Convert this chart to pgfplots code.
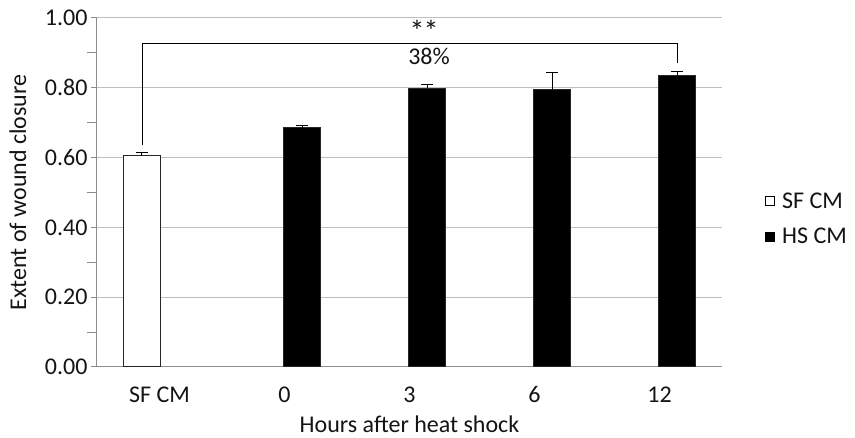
\documentclass[border=0pt]{standalone}
\usepackage{fontspec}
\setmainfont{Carlito}
\usepackage{pgfplots}
\pgfplotsset{compat=1.18}
\definecolor{gridc}{RGB}{190,190,190}
\definecolor{axc}{RGB}{140,140,140}
\definecolor{txt}{RGB}{20,20,20}
\begin{document}
\begin{tikzpicture}[font=\fontsize{24}{28}\selectfont]
\useasboundingbox (0,0) rectangle (855pt,438pt);
\begin{axis}[
  at={(97pt,71pt)}, anchor=south west,
  scale only axis, width=625pt, height=349pt,
  font=\fontsize{24}{28}\selectfont,
  xmin=-0.5, xmax=4.5, ymin=0, ymax=1,
  axis x line*=bottom, axis y line*=left,
  axis line style={axc, line width=1pt},
  ymajorgrids, grid style={gridc, line width=1pt},
  ytick={0,0.2,0.4,0.6,0.8,1.0},
  minor y tick num=1,
  y tick style={axc, line width=1pt},
  major tick length=6pt, minor tick length=10pt,
  tick align=outside,
  minor tick style={axc, line width=1pt},
  /pgf/number format/assume math mode=true,
  yticklabel style={/pgf/number format/.cd, fixed, fixed zerofill, precision=2},
  yticklabel={\pgfmathprintnumber{\tick}},
  xtick={0,1,2,3,4},
  xticklabels={SF CM,0,3,6,12},
  x tick style={draw=none},
  xticklabel style={anchor=center, yshift=-30pt, text height=16pt, text depth=0pt, yshift=8pt},
  extra x ticks={-0.5,0.5,1.5,2.5,3.5,4.5},
  extra x tick labels={},
  extra x tick style={tick style={axc, line width=1pt, draw=axc}, major tick length=7pt, grid=none},
  tick label style={text=txt, font=\fontsize{24}{28}\selectfont},
  ylabel={Extent of wound closure},
  xlabel={Hours after heat shock},
  every axis y label/.style={at={(axis description cs:-0.1264,0.5)}, rotate=90, anchor=center, text=txt},
  every axis x label/.style={at={(axis description cs:0.5,0)}, anchor=center, yshift=-57pt, text=txt},
  ybar, bar width=0.296,
  legend style={at={(1.064,0.424)}, anchor=west, draw=none, fill=none, row sep=14pt, text=txt, font=\fontsize{24}{28}\selectfont},
  legend cell align=left,
  clip=false,
]
\addplot[draw=black!85, fill=white, line width=1pt, bar shift=-0.14,
  legend image code/.code={\draw[draw=black, fill=white, line width=1pt] (0pt,-4.5pt) rectangle (9pt,4.5pt); \path (14pt,0pt);},
  error bars/.cd, y dir=plus, y explicit, error mark options={rotate=90, mark size=6pt, line width=1pt, black}, error bar style={line width=1pt, black}]
  coordinates {(0,0.605) +- (0,0.010)};
\addlegendentry{SF CM}
\addplot[draw=black!85, fill=black, line width=1pt, bar shift=0.14,
  legend image code/.code={\draw[draw=black, fill=black, line width=1pt] (0pt,-4.5pt) rectangle (9pt,4.5pt); \path (14pt,0pt);},
  error bars/.cd, y dir=plus, y explicit, error mark options={rotate=90, mark size=6pt, line width=1pt, black}, error bar style={line width=1pt, black}]
  coordinates {(1,0.686) +- (0,0.005) (2,0.798) +- (0,0.012) (3,0.795) +- (0,0.048) (4,0.836) +- (0,0.011)};
\addlegendentry{HS CM}
\draw[black, line width=1pt] (axis cs:-0.132,0.636) |- (axis cs:4.14,0.927) -- (axis cs:4.14,0.870);
\node[txt, inner sep=0pt, anchor=base, font=\fontsize{30}{34}\selectfont] at (axis cs:2.116,0.934) {*\kern-1pt*};
\node[txt, inner sep=0pt, anchor=base] at (axis cs:2.156,0.866) {38\%};
\end{axis}
\end{tikzpicture}
\end{document}
